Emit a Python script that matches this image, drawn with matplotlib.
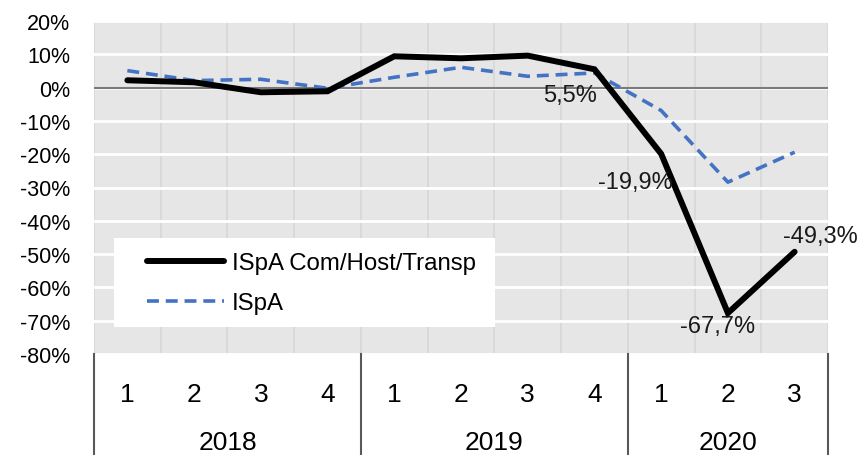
import matplotlib
matplotlib.use("Agg")
import matplotlib.pyplot as plt
import matplotlib.transforms as mtransforms
from matplotlib.patches import Rectangle
import numpy as np

quarters = ["1", "2", "3", "4", "1", "2", "3", "4", "1", "2", "3"]
years = ["2018", "2019", "2020"]
year_counts = [4, 4, 3]
ispa_cht = [2.2, 1.6, -1.4, -1.1, 9.4, 8.8, 9.6, 5.5, -19.9, -67.7, -49.3]
ispa = [5.1, 2.1, 2.5, -0.2, 3.1, 6.1, 3.4, 4.4, -6.9, -28.4, -19.4]
labels = {7: "5,5%", 8: "-19,9%", 9: "-67,7%", 10: "-49,3%"}
label_offsets = {7: (-17.6, -18.5), 8: (-18.7, -20), 9: (-7.2, -9.4), 10: (18.5, 11.5)}

plt.rcParams['font.family'] = ['Liberation Sans', 'DejaVu Sans']

fig = plt.figure(figsize=(8.61, 4.56), dpi=100)
W, H = 861, 456
ax = fig.add_axes([94 / W, (H - 355) / H, (828 - 94) / W, (355 - 22) / H])
ax.set_facecolor("#e6e6e6")

x = np.arange(len(quarters))
ax.set_xlim(-0.5, len(quarters) - 0.5)
ax.set_ylim(-80, 20)

# grids
ax.set_yticks(np.arange(-80, 21, 10))
ax.set_yticklabels([f"{v}%" for v in range(-80, 21, 10)], fontsize=15.5)
ax.grid(axis="y", color="white", linewidth=2)
ax.set_xticks(np.arange(-0.5, len(quarters), 1), minor=True)
ax.grid(axis="x", which="minor", color="#d8d8d8", linewidth=1.3)
ax.set_axisbelow(True)
ax.axhline(0, color="#7a7a7a", linewidth=1.5, zorder=1.5)

ax.set_xticks(x)
ax.set_xticklabels(quarters, fontsize=19)
ax.tick_params(axis="x", which="both", length=0, pad=20)
ax.tick_params(axis="y", length=0, pad=17)
for s in ax.spines.values():
    s.set_visible(False)

l1, = ax.plot(x, ispa_cht, color="black", linewidth=4.3, solid_capstyle="round",
              solid_joinstyle="miter", label="ISpA Com/Host/Transp", zorder=4)
l2, = ax.plot(x, ispa, color="#4472c4", linewidth=2.6, linestyle=(0, (3.3, 1.9)),
              label="ISpA", zorder=3)

for i, t in labels.items():
    dx, dy = label_offsets[i]
    ax.annotate(t, (x[i], ispa_cht[i]), xytext=(dx, dy), textcoords="offset points",
                ha="center", va="center", fontsize=17, color="#1a1a1a", zorder=6)

# year labels and separators
trans = mtransforms.blended_transform_factory(ax.transData, ax.transAxes)
start = 0
bounds = [-0.5]
centers = []
for n in year_counts:
    centers.append(start + (n - 1) / 2)
    start += n
    bounds.append(start - 0.5)
for b in bounds:
    ax.plot([b, b], [0, -0.31], transform=trans, color="#595959", linewidth=1.5,
            clip_on=False)
sec = ax.secondary_xaxis("bottom")
sec.set_xticks(centers)
sec.set_xticklabels(years, fontsize=19)
sec.tick_params(length=0, pad=55)
sec.spines["bottom"].set_visible(False)

# legend box
ax.add_patch(Rectangle((20 / 734, 27 / 333), 381 / 734, 89 / 333, transform=ax.transAxes,
                       facecolor="white", edgecolor="none", zorder=5))
leg = ax.legend(handles=[l1, l2], loc="center left", bbox_to_anchor=(41 / 734, 71 / 333),
                frameon=False, fontsize=17.3, handlelength=3.2, borderpad=0,
                labelspacing=0.75, handletextpad=0.32)
leg.set_zorder(7)

fig.savefig("out.png", dpi=100)
